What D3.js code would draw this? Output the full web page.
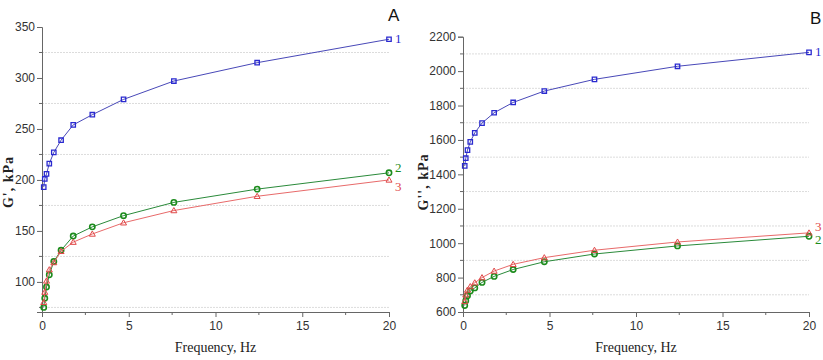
<!DOCTYPE html>
<html>
<head>
<meta charset="utf-8">
<script src="https://cdn.jsdelivr.net/npm/d3@7"></script>
<style>
  body { margin: 0; background: #fff; }
  .tick text { font-family: "Liberation Sans", Arial, sans-serif; font-size: 12px; fill: #333; }
  .ttl { font-family: "Liberation Serif", "Times New Roman", serif; }
</style>
</head>
<body>
<svg id="chart" width="823" height="360"></svg>
<script>
// frequencies (Hz), same for both panels
var freq = [0.1, 0.16, 0.26, 0.42, 0.68, 1.1, 1.8, 2.9, 4.7, 7.6, 12.4, 20];

// panel A: G', kPa
var a_s1 = [193, 201, 206, 216, 227, 239, 254, 264, 279, 297, 315, 338];
var a_s2 = [75, 84, 95, 107, 120, 131, 145, 154, 165, 178, 191, 207];
var a_s3 = [80, 90, 101, 112, 119, 130, 139, 147, 158, 170, 184, 200];
var a_yticks = [100, 150, 200, 250, 300, 350];
var a_grid = [75, 125, 175, 225, 275, 325];

// panel B: G'', kPa
var b_s1 = [1449, 1494, 1541, 1589, 1641, 1698, 1758, 1818, 1884, 1952, 2028, 2109];
var b_s2 = [638, 666, 695, 722, 740, 772, 807, 847, 892, 937, 984, 1040];
var b_s3 = [662, 700, 728, 748, 770, 800, 838, 877, 916, 959, 1007, 1060];
var b_yticks = [600, 800, 1000, 1200, 1400, 1600, 1800, 2000, 2200];
var b_grid = [700, 900, 1100, 1300, 1500, 1700, 1900, 2100];

var xticks = [0, 5, 10, 15, 20];
var xminor = [2.5, 7.5, 12.5, 17.5];

var svg = d3.select("#chart");

function drawPanel(opt) {
    var x = d3.scaleLinear().domain([0, 20]).range([opt.x0, opt.x1]);
    var y = d3.scaleLinear().domain(opt.ydom).range([opt.y0, opt.y1]);
    var g = svg.append("g");

    // dotted gridlines at half steps
    g.selectAll(".grid")
        .data(opt.grid)
        .join("line")
        .attr("x1", opt.x0)
        .attr("x2", opt.x1)
        .attr("y1", function (d) { return y(d); })
        .attr("y2", function (d) { return y(d); })
        .attr("stroke", "#dcdcdc")
        .attr("stroke-width", 1)
        .attr("stroke-dasharray", "2,1");

    // minor ticks
    g.selectAll(".ymin")
        .data(opt.grid)
        .join("line")
        .attr("x1", opt.x0 - 3)
        .attr("x2", opt.x0)
        .attr("y1", function (d) { return y(d); })
        .attr("y2", function (d) { return y(d); })
        .attr("stroke", "#666");
    g.selectAll(".xmin")
        .data(xminor)
        .join("line")
        .attr("x1", function (d) { return x(d); })
        .attr("x2", function (d) { return x(d); })
        .attr("y1", opt.y0)
        .attr("y2", opt.y0 + 3)
        .attr("stroke", "#666");

    var xAxis = g.append("g")
        .attr("transform", "translate(0," + opt.y0 + ")")
        .call(d3.axisBottom(x).tickValues(xticks).tickSize(5).tickPadding(4));
    var yAxis = g.append("g")
        .attr("transform", "translate(" + opt.x0 + ",0)")
        .call(d3.axisLeft(y).tickValues(opt.yticks).tickFormat(d3.format("d")).tickSize(5).tickPadding(2));
    [xAxis, yAxis].forEach(function (ax) {
        ax.select(".domain").attr("stroke", "#666");
        ax.selectAll(".tick line").attr("stroke", "#666");
    });

    var line = d3.line()
        .x(function (d, i) { return x(freq[i]); })
        .y(function (d) { return y(d); });

    opt.series.forEach(function (s) {
        g.append("path")
            .datum(s.values)
            .attr("d", line)
            .attr("fill", "none")
            .attr("stroke", s.line)
            .attr("stroke-width", 1);

        var pts = g.selectAll(null)
            .data(s.values)
            .join("path")
            .attr("transform", function (d, i) {
                return "translate(" + x(freq[i]) + "," + y(d) + ")";
            })
            .attr("fill", "none")
            .attr("stroke", s.color)
            .attr("stroke-width", s.sw);
        if (s.shape == "square") pts.attr("d", "M-2.2,-2.2h4.4v4.4h-4.4z");
        else if (s.shape == "circle") pts.attr("d", d3.symbol(d3.symbolCircle, 22)());
        else pts.attr("d", "M0,-3L3,2.2L-3,2.2Z");

        g.append("text")
            .attr("class", "ttl")
            .attr("x", x(20) + 6)
            .attr("y", y(s.values[s.values.length - 1]) + s.dy)
            .attr("fill", s.color)
            .attr("font-size", 13)
            .text(s.label);
    });

    g.append("text")
        .attr("x", opt.letterX)
        .attr("y", opt.letterY)
        .attr("font-family", "Liberation Sans, Arial, sans-serif")
        .attr("font-size", 17)
        .attr("fill", "#111")
        .text(opt.letter);

    g.append("text")
        .attr("class", "ttl")
        .attr("x", (opt.x0 + opt.x1) / 2)
        .attr("y", 352)
        .attr("text-anchor", "middle")
        .attr("font-size", 14)
        .attr("fill", "#222")
        .text("Frequency, Hz");

    g.append("text")
        .attr("class", "ttl")
        .attr("transform", "translate(" + opt.ytx + ",182) rotate(-90)")
        .attr("text-anchor", "middle")
        .attr("font-size", 14)
        .attr("font-weight", "bold")
        .attr("letter-spacing", 1)
        .attr("fill", "#222")
        .text(opt.ytitle);
}

drawPanel({
    x0: 42, x1: 389, y0: 312, y1: 27, ydom: [70.5, 350],
    yticks: a_yticks, grid: a_grid,
    letter: "A", letterX: 388, letterY: 21, ytx: 13, ytitle: "G', kPa",
    series: [
        { values: a_s1, color: "#2a2ad0", line: "#4848b8", shape: "square", sw: 1.3, label: "1", dy: 4 },
        { values: a_s2, color: "#1c8c1c", line: "#2a8a3a", shape: "circle", sw: 1.6, label: "2", dy: -1 },
        { values: a_s3, color: "#e04848", line: "#e86a6a", shape: "tri", sw: 1, label: "3", dy: 11 }
    ]
});

drawPanel({
    x0: 463, x1: 809, y0: 312, y1: 36.7, ydom: [600, 2200],
    yticks: b_yticks, grid: b_grid,
    letter: "B", letterX: 810, letterY: 24, ytx: 428, ytitle: "G'', kPa",
    series: [
        { values: b_s1, color: "#2a2ad0", line: "#4848b8", shape: "square", sw: 1.3, label: "1", dy: 4 },
        { values: b_s2, color: "#1c8c1c", line: "#2a8a3a", shape: "circle", sw: 1.6, label: "2", dy: 8 },
        { values: b_s3, color: "#e04848", line: "#e86a6a", shape: "tri", sw: 1, label: "3", dy: -2 }
    ]
});
</script>
</body>
</html>
